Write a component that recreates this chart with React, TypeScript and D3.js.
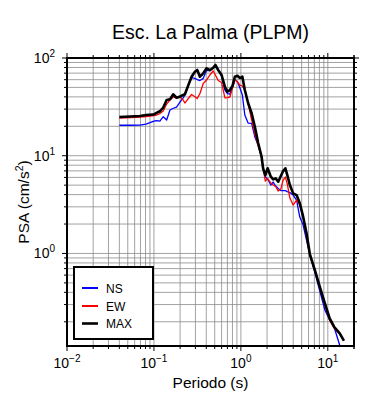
import React from "react";
import * as d3 from "d3";

const periods = [0.04, 0.053, 0.069, 0.081, 0.09, 0.1, 0.107, 0.117, 0.128, 0.14,
  0.153, 0.167, 0.182, 0.2, 0.217, 0.227, 0.248, 0.271, 0.296, 0.315,
  0.338, 0.369, 0.403, 0.44, 0.481, 0.509, 0.548, 0.6, 0.655, 0.7,
  0.748, 0.8, 0.853, 0.912, 0.975, 1.04, 1.11, 1.21, 1.33, 1.45,
  1.58, 1.73, 1.8, 1.91, 2.03, 2.21, 2.35, 2.51, 2.69, 2.88,
  3.06, 3.25, 3.42, 3.66, 3.99, 4.37, 4.76, 5.2, 5.69, 6.21,
  7.09, 8.09, 9.25, 10.5, 11.8, 13.7, 15.3];

const psaNS = [20.5, 20.5, 20.6, 21.1, 21.8, 22.6, 22.9, 22.6, 25.1, 23.2,
  29.4, 30.6, 31.5, 35.5, 39.0, 41.8, 51.7, 63.1, 61.9, 60.2,
  58.8, 61.9, 74.9, 74.5, 79.9, 81.8, 75.4, 65.4, 47.0, 43.3,
  42.8, 50.5, 59.5, 57.5, 49.3, 41.8, 26.1, 21.6, 21.4, 15.5,
  12.9, 9.7, 7.66, 6.05, 5.78, 5.01, 5.38, 4.9, 4.62, 4.4,
  4.4, 4.4, 4.3, 4.2, 3.96, 3.52, 2.36, 1.95, 1.37, 0.963,
  0.646, 0.412, 0.264, 0.208, 0.177, 0.115, 0.085];

const psaEW = [24.3, 24.6, 24.9, 25.2, 25.5, 25.7, 26.1, 27.0, 28.7, 33.8,
  37.2, 39.9, 39.0, 39.9, 37.2, 34.6, 38.5, 42.3, 40.2, 38.5,
  43.3, 54.8, 59.5, 67.0, 73.6, 67.0, 58.8, 56.1, 39.0, 39.4,
  39.9, 49.3, 60.2, 56.8, 52.9, 51.7, 47.0, 34.6, 23.2, 16.7,
  12.6, 9.7, 7.49, 5.51, 5.87, 5.26, 5.01, 4.84, 4.35, 4.56,
  5.64, 6.05, 5.13, 3.69, 3.13, 3.52, 3.13, 2.36, 1.51, 0.963,
  0.676, 0.453, 0.296, 0.208, 0.172, 0.15, 0.127];

const psaMAX = [24.9, 25.2, 25.5, 26.1, 26.3, 26.5, 27.4, 28.5, 31.1, 37.2,
  37.8, 42.5, 39.2, 40.4, 41.8, 42.5, 52.5, 64.4, 72.4, 75.4,
  64.4, 69.7, 78.5, 75.0, 79.6, 84.8, 75.4, 67.0, 50.8, 45.2,
  47.0, 51.7, 64.4, 65.9, 62.4, 64.4, 47.0, 34.6, 27.2, 19.7,
  13.5, 9.77, 7.43, 6.34, 7.43, 6.1, 5.73, 5.87, 5.42, 6.2,
  6.97, 7.43, 6.34, 5.01, 4.12, 3.96, 3.26, 2.38, 1.61, 0.986,
  0.676, 0.456, 0.308, 0.217, 0.178, 0.152, 0.128];

const xMajor = [0.01, 0.1, 1, 10];
const xExps = ["\u22122", "\u22121", "0", "1"];
const yMajor = [1, 10, 100];
const yExps = ["0", "1", "2"];

const seriesNames = ["NS", "EW", "MAX"];
const seriesColors = ["#0000ff", "#ff0000", "#000000"];

const W = 390, H = 400;
const L = 67, R = 354, T = 58, B = 346;
const FONT = "'Liberation Sans', Arial, Helvetica, sans-serif";

export default function App() {
  const x = d3.scaleLog().domain([0.01, 20]).range([L, R]);
  const y = d3.scaleLog().domain([0.113, 100]).range([B, T]);

  const xMinor: number[] = [];
  for (let e = -2; e <= 1; e++) for (let k = 1; k <= 9; k++) {
    const v = k * Math.pow(10, e);
    if (v >= 0.01 && v <= 20.001) xMinor.push(v);
  }
  xMinor.push(20);
  const yMinor: number[] = [];
  for (let e = -1; e <= 1; e++) for (let k = 1; k <= 9; k++) {
    const v = k * Math.pow(10, e);
    if (v >= 0.113 && v <= 100) yMinor.push(v);
  }
  yMinor.push(100);

  const isMajor = (v: number) => Math.abs(Math.log10(v) - Math.round(Math.log10(v))) < 1e-6;

  const line = d3.line<[number, number]>().x(d => x(d[0])).y(d => y(d[1]));
  const data = [psaNS, psaEW, psaMAX].map(arr => arr.map((v, i) => [periods[i], v] as [number, number]));
  const widths = [1.3, 1.3, 2.6];

  return (
    <svg width={W} height={H} style={{ position: "absolute", left: 0, top: 0, background: "#fff" }} fontFamily={FONT}>
      <rect x={0} y={0} width={W} height={H} fill="#fff" />
      <defs>
        <clipPath id="plotclip"><rect x={L} y={T} width={R - L} height={B - T} /></clipPath>
      </defs>
      {/* grid */}
      <g stroke="#8a8a8a" strokeWidth={0.8}>
        {xMinor.map((v, i) => <line key={"gx" + i} x1={x(v)} x2={x(v)} y1={T} y2={B} />)}
        {yMinor.map((v, i) => <line key={"gy" + i} x1={L} x2={R} y1={y(v)} y2={y(v)} />)}
      </g>
      {/* ticks */}
      <g stroke="#000" strokeWidth={1}>
        {xMinor.map((v, i) => {
          const len = isMajor(v) ? 5 : 3;
          return <g key={"tx" + i}>
            <line x1={x(v)} x2={x(v)} y1={B} y2={B + len} />
            <line x1={x(v)} x2={x(v)} y1={T} y2={T - len} />
          </g>;
        })}
        {yMinor.map((v, i) => {
          const len = isMajor(v) ? 5 : 3;
          return <g key={"ty" + i}>
            <line x1={L} x2={L - len} y1={y(v)} y2={y(v)} />
            <line x1={R} x2={R + len} y1={y(v)} y2={y(v)} />
          </g>;
        })}
      </g>
      {/* series */}
      <g clipPath="url(#plotclip)" fill="none" strokeLinejoin="round">
        {data.map((d, i) => (
          <path key={"s" + i} d={line(d) || ""} stroke={seriesColors[i]} strokeWidth={widths[i]} />
        ))}
      </g>
      {/* frame */}
      <rect x={L} y={T} width={R - L} height={B - T} fill="none" stroke="#000" strokeWidth={2} />
      {/* x tick labels */}
      {xMajor.map((v, i) => (
        <text key={"xl" + i} x={x(v)} y={368} textAnchor="middle" fontSize={14} fill="#000">
          10<tspan dy={-6} fontSize={10}>{xExps[i]}</tspan>
        </text>
      ))}
      {/* y tick labels */}
      {yMajor.map((v, i) => (
        <text key={"yl" + i} x={55} y={y(v) + 5} textAnchor="end" fontSize={14} fill="#000">
          10<tspan dy={-6} fontSize={10}>{yExps[i]}</tspan>
        </text>
      ))}
      {/* title */}
      <text x={(L + R) / 2} y={39} textAnchor="middle" fontSize={19.5} fill="#000">Esc. La Palma (PLPM)</text>
      <text x={(L + R) / 2} y={388} textAnchor="middle" fontSize={15.5} fill="#000">Periodo (s)</text>
      <text transform={`translate(29,${(T + B) / 2}) rotate(-90)`} textAnchor="middle" fontSize={15.5} fill="#000">
        PSA (cm/s<tspan dy={-6} fontSize={10.5}>2</tspan><tspan dy={6}>)</tspan>
      </text>
      {/* legend */}
      <rect x={74} y={267} width={79} height={72} fill="#fff" stroke="#000" strokeWidth={2} />
      {seriesNames.map((n, i) => {
        const ly = [288, 306, 323.5][i];
        return <g key={"lg" + i}>
          <line x1={82} x2={98} y1={ly} y2={ly} stroke={seriesColors[i]} strokeWidth={i === 2 ? 2.6 : 2} />
          <text x={106} y={ly + 4.5} fontSize={12} fill="#000">{n}</text>
        </g>;
      })}
    </svg>
  );
}
